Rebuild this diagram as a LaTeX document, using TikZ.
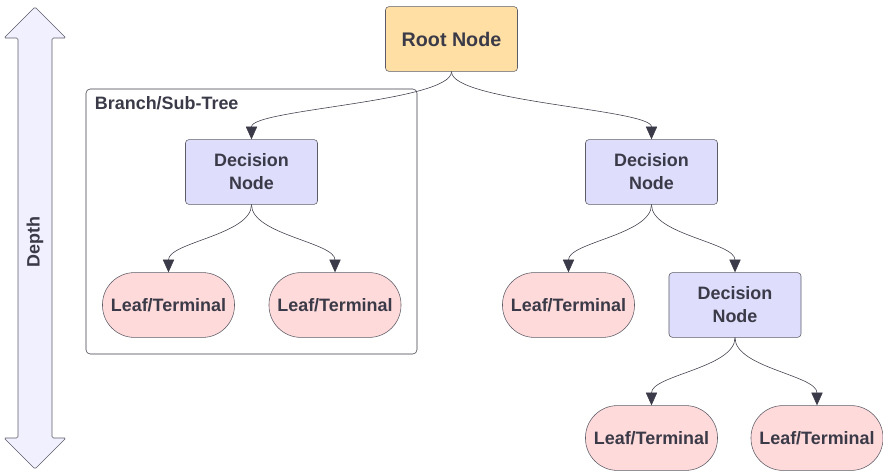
\documentclass[tikz,border=0pt]{standalone}
\usepackage{fontspec}
\setmainfont{Liberation Sans}
\usetikzlibrary{arrows.meta}
\definecolor{inkgray}{HTML}{3A3A48}
\definecolor{linegray}{HTML}{5C5C68}
\definecolor{rootfill}{HTML}{FFDFA3}
\definecolor{decfill}{HTML}{DEDEFC}
\definecolor{leaffill}{HTML}{FFDADA}
\definecolor{depthfill}{HTML}{F0F0FF}
\tikzset{
    box/.style={draw=linegray, rounded corners=2.5pt, minimum width=3.3cm, minimum height=1.62cm, align=center, text=inkgray, font=\fontsize{12.75}{16.3}\selectfont\bfseries},
    rootbox/.style={box, fill=rootfill, font=\fontsize{14}{17}\selectfont\bfseries},
    decbox/.style={box, fill=decfill},
    leafbox/.style={box, fill=leaffill, rounded corners=0.8cm},
    link/.style={draw=inkgray, -{Triangle[length=9pt,width=8pt]}}
}
\begin{document}
\begin{tikzpicture}[x=0.025cm,y=-0.025cm]
        \useasboundingbox (0,0) rectangle (883,473);
        %% Depth arrow
        \draw[linegray, fill=depthfill, rounded corners=1pt] (35,7) -- (66,38) -- (52,38) -- (52,438) -- (66,438) -- (35,469) -- (4,438) -- (18,438) -- (18,38) -- (4,38) -- cycle;
        \node[rotate=90, text=inkgray, font=\fontsize{12.75}{15}\selectfont\bfseries] (depth) at (35,242) {Depth};
        %% Branch box
        \draw[inkgray, rounded corners=3pt] (86,89) rectangle (417,354);
        \node[anchor=west, text=inkgray, font=\fontsize{12.75}{15}\selectfont\bfseries] (branch) at (90,103) {Branch/Sub-Tree};
        %% Nodes
        \node[rootbox] (root) at (451.5,39) {Root Node};
        \node[decbox] (decA) at (251.5,172) {Decision\\Node};
        \node[decbox] (decB) at (651.5,172) {Decision\\Node};
        \node[decbox] (decC) at (735,305) {Decision\\Node};
        \node[leafbox] (leafA) at (168.5,305) {Leaf/Terminal};
        \node[leafbox] (leafB) at (335,305) {Leaf/Terminal};
        \node[leafbox] (leafC) at (568.5,305) {Leaf/Terminal};
        \node[leafbox] (leafD) at (651.5,438) {Leaf/Terminal};
        \node[leafbox] (leafE) at (817,438) {Leaf/Terminal};
        %% Links
        \draw[link] (root.south) .. controls +(0,30) and +(0,-30) .. (decA.north);
        \draw[link] (root.south) .. controls +(0,30) and +(0,-30) .. (decB.north);
        \draw[link] (decA.south) .. controls +(0,30) and +(0,-30) .. (leafA.north);
        \draw[link] (decA.south) .. controls +(0,30) and +(0,-30) .. (leafB.north);
        \draw[link] (decB.south) .. controls +(0,30) and +(0,-30) .. (leafC.north);
        \draw[link] (decB.south) .. controls +(0,30) and +(0,-30) .. (decC.north);
        \draw[link] (decC.south) .. controls +(0,30) and +(0,-30) .. (leafD.north);
        \draw[link] (decC.south) .. controls +(0,30) and +(0,-30) .. (leafE.north);
\end{tikzpicture}
\end{document}
